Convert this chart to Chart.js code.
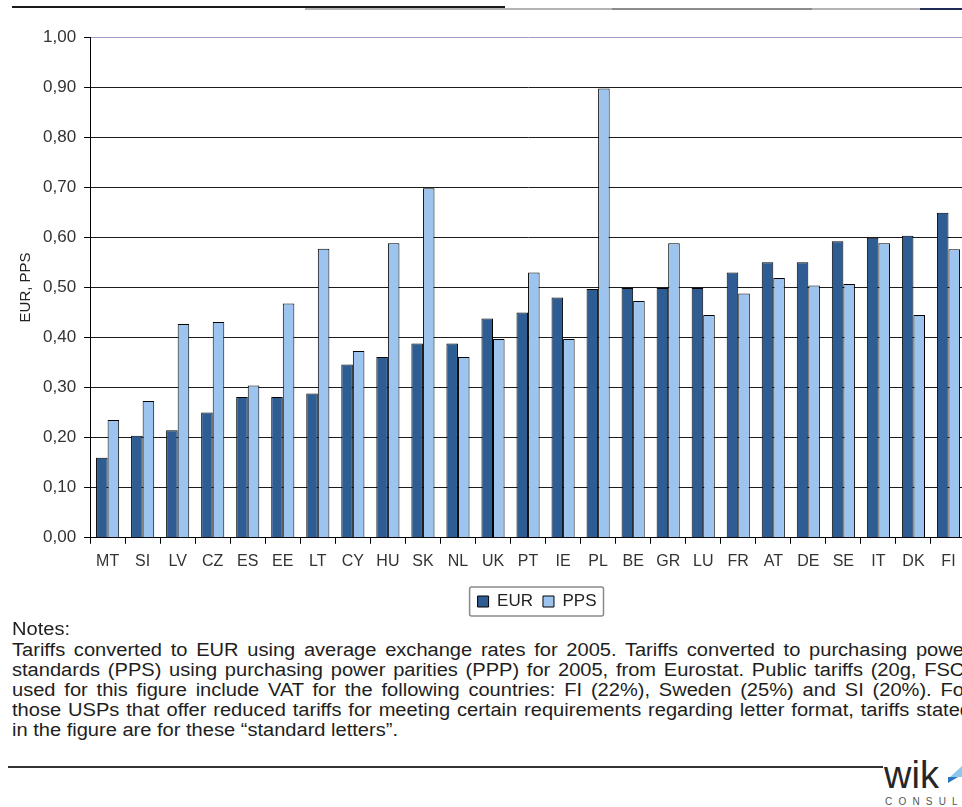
<!DOCTYPE html>
<html>
<head>
<meta charset="utf-8">
<script src="https://cdn.jsdelivr.net/npm/chart.js@4.4.0/dist/chart.umd.min.js"></script>
<style>
html,body{margin:0;padding:0;background:#fff;}
body{width:962px;height:807px;overflow:hidden;position:relative;font-family:"Liberation Sans",Arial,sans-serif;}
#wrap{position:absolute;left:0;top:0;width:972px;height:620px;}
.bar{position:absolute;}
#notesHead{position:absolute;left:12px;top:619px;font-size:18px;line-height:20px;color:#1e1e1e;white-space:nowrap;transform-origin:0 0;}
#notes{position:absolute;left:12px;top:640px;font-size:18px;line-height:20px;color:#1e1e1e;white-space:nowrap;transform-origin:0 0;}
#logo{position:absolute;left:884px;top:756px;font-size:38px;line-height:38px;color:#262626;white-space:nowrap;}
#consult{position:absolute;left:885px;top:797px;font-size:10px;line-height:10px;letter-spacing:6.2px;color:#555;white-space:nowrap;}
.tri{position:absolute;width:0;height:0;}
</style>
</head>
<body>
<div class="bar" style="left:305px;top:8px;width:615px;height:2px;background:#b4b4b4;"></div>
<div class="bar" style="left:612px;top:8px;width:200px;height:2px;background:#8c8c8c;"></div>
<div class="bar" style="left:920px;top:8px;width:42px;height:2px;background:#1f2a55;"></div>
<div class="bar" style="left:12px;top:6px;width:493px;height:2px;background:#1a1a1a;"></div>
<div id="wrap"><canvas id="c" width="972" height="620"></canvas></div>
<div id="notesHead">Notes:</div>
<div id="notes"></div>
<div class="bar" style="left:8px;top:766px;width:875px;height:2px;background:#333;"></div>
<div id="logo">wik</div>
<div class="tri" style="left:950px;top:766px;border-left:12px solid transparent;border-bottom:11px solid #8fc7ec;"></div>
<div class="tri" style="left:948px;top:777px;border-right:10px solid transparent;border-top:6px solid #2b78bd;"></div>
<div id="consult">CONSULT</div>
<script>
const categories = ['MT','SI','LV','CZ','ES','EE','LT','CY','HU','SK','NL','UK','PT','IE','PL','BE','GR','LU','FR','AT','DE','SE','IT','DK','FI'];
const eurValues = [0.160,0.204,0.215,0.250,0.281,0.281,0.288,0.346,0.361,0.388,0.388,0.438,0.450,0.480,0.497,0.499,0.499,0.499,0.530,0.550,0.550,0.592,0.599,0.603,0.649];
const ppsValues = [0.235,0.273,0.427,0.431,0.304,0.468,0.577,0.373,0.588,0.698,0.361,0.397,0.530,0.397,0.897,0.473,0.588,0.445,0.488,0.519,0.504,0.507,0.588,0.445,0.576];
const yTickLabels = ['0,00','0,10','0,20','0,30','0,40','0,50','0,60','0,70','0,80','0,90','1,00'];
const seriesNames = ['EUR','PPS'];
const noteLines = [
  'Tariffs converted to EUR using average exchange rates for 2005. Tariffs converted to purchasing power',
  'standards (PPS) using purchasing power parities (PPP) for 2005, from Eurostat. Public tariffs (20g, FSC)',
  'used for this figure include VAT for the following countries: FI (22%), Sweden (25%) and SI (20%). For',
  'those USPs that offer reduced tariffs for meeting certain requirements regarding letter format, tariffs stated',
  'in the figure are for these \u201cstandard letters\u201d.'
];

const FONT = "'Liberation Sans', Arial, sans-serif";
const LEGEND_SHIFT = 9;

const legendFrame = {
  id: 'legendFrame',
  afterLayout(chart) {
    const lg = chart.legend;
    if (lg) { lg.left += LEGEND_SHIFT; lg.right += LEGEND_SHIFT; }
  },
  afterDraw(chart) {
    const lg = chart.legend;
    if (!lg || !lg.legendHitBoxes.length) return;
    const hb = lg.legendHitBoxes;
    const first = hb[0], last = hb[hb.length - 1];
    const x0 = first.left - 8;
    const x1 = last.left + last.width + 7;
    const cy = first.top + first.height / 2;
    const ctx = chart.ctx;
    ctx.save();
    ctx.strokeStyle = '#8a8a8a';
    ctx.lineWidth = 1.5;
    ctx.beginPath();
    ctx.roundRect(x0, cy - 14.5, x1 - x0, 29, 2);
    ctx.stroke();
    ctx.restore();
  }
};

new Chart(document.getElementById('c'), {
  type: 'bar',
  data: {
    labels: categories,
    datasets: [
      { label: seriesNames[0], data: eurValues, backgroundColor: '#2d5d92', borderColor: '#000', borderWidth: 1,
        categoryPercentage: 0.66, barPercentage: 1.0 },
      { label: seriesNames[1], data: ppsValues, backgroundColor: '#9cc4ee', borderColor: '#000', borderWidth: 1,
        categoryPercentage: 0.66, barPercentage: 1.0 }
    ]
  },
  options: {
    responsive: false,
    animation: false,
    layout: { padding: { left: 17, right: 6, top: 37, bottom: 0 } },
    plugins: {
      tooltip: { enabled: false },
      legend: {
        position: 'bottom',
        fullSize: false,
        labels: { boxWidth: 11, boxHeight: 11, padding: 10, color: '#222', font: { family: FONT, size: 17 } }
      }
    },
    scales: {
      x: {
        grid: { display: true, drawOnChartArea: false, drawTicks: true, tickLength: 6, offset: true, color: '#000', tickColor: '#000' },
        border: { display: true, color: '#000', width: 1 },
        ticks: { color: '#333', padding: 8, maxRotation: 0, autoSkip: false, font: { family: FONT, size: 16 } },
        afterFit: (scale) => { scale.height += 4; }
      },
      y: {
        min: 0, max: 1,
        grid: {
          color: (ctx) => (ctx.tick && Math.round(ctx.tick.value * 10) === 10) ? '#9c9ccc' : '#1c1c1c',
          tickColor: '#000', tickLength: 6, lineWidth: 1
        },
        border: { display: true, color: '#000', width: 1 },
        ticks: {
          stepSize: 0.1, padding: 8, color: '#333', font: { family: FONT, size: 17 },
          callback: (v) => yTickLabels[Math.round(v * 10)]
        },
        title: { display: true, text: 'EUR, PPS', color: '#222', font: { family: FONT, size: 15 }, padding: { top: 0, bottom: 0 } }
      }
    }
  },
  plugins: [legendFrame]
});

// Notes text: lines justified like the source document (right edge beyond the crop)
(function () {
  const mc = document.createElement('canvas').getContext('2d');
  mc.font = "18px 'Liberation Sans'";
  const s = (398 - 12) / mc.measureText(noteLines[4]).width;
  const target = (971 - 12) / s;
  const box = document.getElementById('notes');
  noteLines.forEach((t, i) => {
    const d = document.createElement('div');
    d.textContent = t;
    if (i < noteLines.length - 1) {
      const spaces = (t.match(/ /g) || []).length;
      const ws = (target - mc.measureText(t).width) / spaces;
      d.style.wordSpacing = ws.toFixed(3) + 'px';
    }
    box.appendChild(d);
  });
  box.style.transform = 'scaleX(' + s.toFixed(4) + ')';
  document.getElementById('notesHead').style.transform = 'scaleX(' + s.toFixed(4) + ')';
})();
</script>
</body>
</html>
